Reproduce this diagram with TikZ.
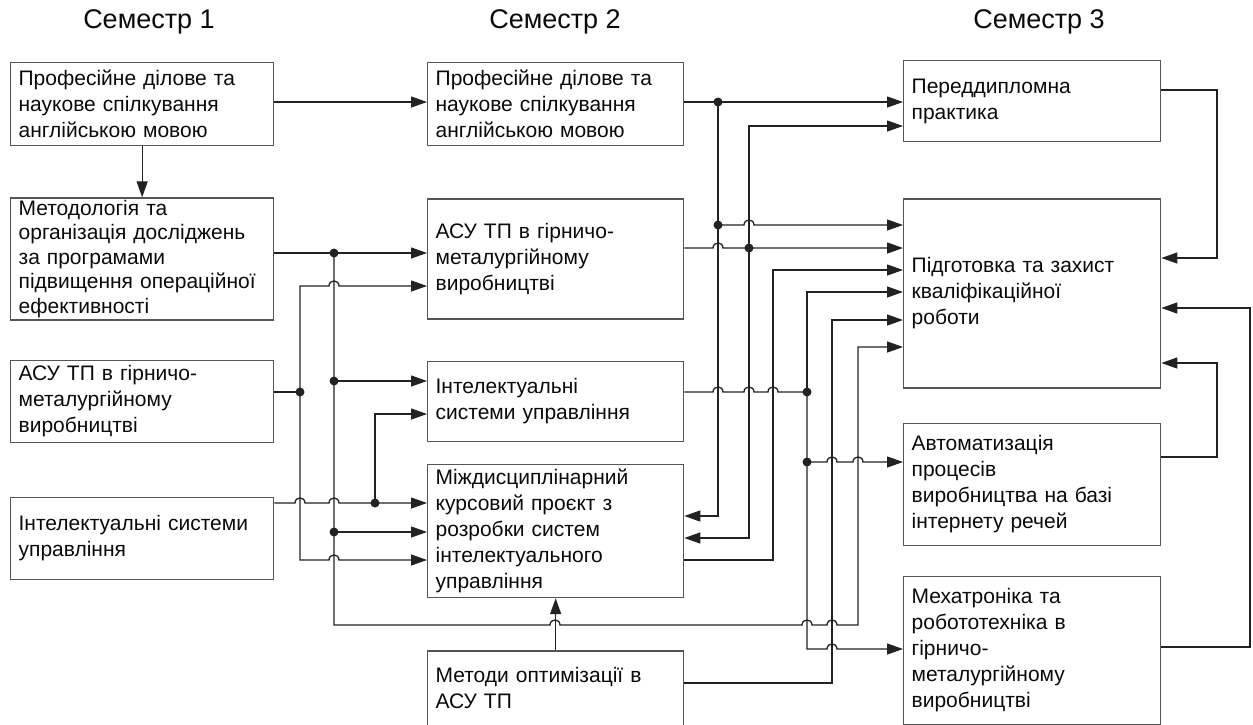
\documentclass[tikz,border=0pt]{standalone}
\usepackage{fontspec}
\setmainfont{Liberation Sans}
\usepackage{tikz}
\usetikzlibrary{arrows.meta, positioning, calc}
\definecolor{planedge}{HTML}{555555}
\definecolor{planline}{HTML}{222222}
\definecolor{planink}{HTML}{0A0A0A}
% hop of a horizontal line over a vertical one at (#1,#2)
\newcommand{\linehop}[2]{-- (#1-5,#2) .. controls (#1-5,#2-6.7) and (#1+5,#2-6.7) .. (#1+5,#2)}

\begin{document}
\begin{tikzpicture}[x=1pt, y=-1pt,
    box/.style={draw=planedge, line width=1.3pt, align=left, inner xsep=8pt, inner ysep=0pt, text=planink, font=\fontsize{21}{26}\selectfont},
    head/.style={font=\fontsize{27}{32}\selectfont, text=planink},
    line/.style={draw=planline, line width=1.3pt},
    arrow/.style={line, -{Triangle[length=16pt, width=11pt]}}
  ]
  \useasboundingbox (0,0) rectangle (1253,724);

  \node (sem1) [head] at (149,22) {Семестр 1};
  \node (sem2) [head] at (555,22) {Семестр 2};
  \node (sem3) [head] at (1039,22) {Семестр 3};

  % semester 1
  \node (s1prof) [box, text width=247pt, minimum height=83pt, anchor=north west] at (10,62) {Професійне ділове та\\наукове спілкування\\англійською мовою};
  \node (s1metod) [box, text width=247pt, minimum height=122pt, below=51pt of s1prof, font=\fontsize{21}{24.5}\selectfont] {Методологія та\\організація досліджень\\за програмами\\підвищення операційної\\ефективності};
  \node (s1asu) [box, text width=247pt, minimum height=82pt, below=39pt of s1metod] {АСУ ТП в гірничо-\\металургійному\\виробництві};
  \node (s1intel) [box, text width=247pt, minimum height=82pt, below=54pt of s1asu] {Інтелектуальні системи\\управління};

  % semester 2
  \node (s2prof) [box, text width=240pt, minimum height=83pt, anchor=north west] at (427,62) {Професійне ділове та\\наукове спілкування\\англійською мовою};
  \node (s2asu) [box, text width=240pt, minimum height=120pt, below=52pt of s2prof] {АСУ ТП в гірничо-\\металургійному\\виробництві};
  \node (s2intel) [box, text width=240pt, minimum height=80pt, below=41pt of s2asu] {Інтелектуальні\\системи управління};
  \node (s2kurs) [box, text width=240pt, minimum height=133pt, below=22pt of s2intel] {Міждисциплінарний\\курсовий проєкт з\\розробки систем\\інтелектуального\\управління};
  \node (s2metod) [box, text width=240pt, minimum height=75pt, below=52pt of s2kurs] {Методи оптимізації в\\АСУ ТП};

  % semester 3
  \node (s3prak) [box, text width=241pt, minimum height=81pt, anchor=north west] at (903,60) {Переддипломна\\практика};
  \node (s3kval) [box, text width=241pt, minimum height=189pt, below=56pt of s3prak] {Підготовка та захист\\кваліфікаційної\\роботи};
  \node (s3iot) [box, text width=241pt, minimum height=122pt, below=34pt of s3kval] {Автоматизація\\процесів\\виробництва на базі\\інтернету речей};
  \node (s3mech) [box, text width=241pt, minimum height=148pt, below=30pt of s3iot] {Мехатроніка та\\робототехніка в\\гірничо-\\металургійному\\виробництві};

  % bus points
  \coordinate (jm) at (334,253);
  \coordinate (jm2) at (334,381);
  \coordinate (jm3) at (334,532);
  \coordinate (jm4) at (334,625);
  \coordinate (jm5) at (858,625);
  \coordinate (jm6) at (858,347);
  \coordinate (ja) at (300,392);
  \coordinate (ja1) at (300,286);
  \coordinate (ja2) at (300,560);
  \coordinate (ji) at (375,503);
  \coordinate (ji1) at (375,414);
  \coordinate (jp) at (718,102);
  \coordinate (jp1) at (718,225);
  \coordinate (jp2) at (718,516);
  \coordinate (jb) at (749,248);
  \coordinate (jb1) at (749,126);
  \coordinate (jb2) at (749,538);
  \coordinate (jk1) at (773,560);
  \coordinate (jk2) at (773,270);
  \coordinate (jc) at (807,392);
  \coordinate (jc1) at (807,292);
  \coordinate (jc2) at (807,462);
  \coordinate (jc3) at (807,649);
  \coordinate (jo1) at (832,683);
  \coordinate (jo2) at (832,320);
  \coordinate (jr1) at (1217,90);
  \coordinate (jr2) at (1217,258);
  \coordinate (jr3) at (1250,647);
  \coordinate (jr4) at (1250,308);
  \coordinate (jr5) at (1217,457);
  \coordinate (jr6) at (1217,363);

  % semester 1 -> semester 2
  \draw [arrow] (s1prof.east |- jp) -- (s2prof.west |- jp);
  \draw [arrow] (s1prof) -- (s1metod);
  \draw [arrow] (s1metod.east |- jm) -- (s2asu.west |- jm);
  \draw [arrow] (jm) -- (jm4) \linehop{555}{625} \linehop{807}{625} \linehop{832}{625} -- (jm5) -- (jm6) -- (s3kval.west |- jm6);
  \draw [arrow] (jm2) -- (s2intel.west |- jm2);
  \draw [arrow] (jm3) -- (s2kurs.west |- jm3);
  \draw [line] (s1asu.east |- ja) -- (ja);
  \draw [arrow] (ja) -- (ja1) \linehop{334}{286} -- (s2asu.west |- ja1);
  \draw [arrow] (ja) -- (ja2) \linehop{334}{560} -- (s2kurs.west |- ja2);
  \draw [arrow] (s1intel.east |- ji) \linehop{300}{503} \linehop{334}{503} -- (s2kurs.west |- ji);
  \draw [arrow] (ji) -- (ji1) -- (s2intel.west |- ji1);
  \draw [arrow] (s2metod) -- (s2kurs);

  % semester 2 -> semester 3
  \draw [arrow] (s2prof.east |- jp) -- (s3prak.west |- jp);
  \draw [arrow] (jp) -- (jp2) -- (s2kurs.east |- jp2);
  \draw [arrow] (jp1) \linehop{749}{225} -- (s3kval.west |- jp1);
  \draw [arrow] (s2asu.east |- jb) \linehop{718}{248} -- (s3kval.west |- jb);
  \draw [arrow] (jb) -- (jb1) -- (s3prak.west |- jb1);
  \draw [arrow] (jb) -- (jb2) -- (s2kurs.east |- jb2);
  \draw [arrow] (s2kurs.east |- jk1) -- (jk1) -- (jk2) -- (s3kval.west |- jk2);
  \draw [line] (s2intel.east |- jc) \linehop{718}{392} \linehop{749}{392} \linehop{773}{392} -- (jc);
  \draw [arrow] (jc) -- (jc1) -- (s3kval.west |- jc1);
  \draw [arrow] (jc) -- (jc3) \linehop{832}{649} -- (s3mech.west |- jc3);
  \draw [arrow] (jc2) \linehop{832}{462} \linehop{858}{462} -- (s3iot.west |- jc2);
  \draw [arrow] (s2metod.east |- jo1) -- (jo1) -- (jo2) -- (s3kval.west |- jo2);

  % semester 3 -> qualification work
  \draw [arrow] (s3prak.east |- jr1) -- (jr1) -- (jr2) -- (s3kval.east |- jr2);
  \draw [arrow] (s3mech.east |- jr3) -- (jr3) -- (jr4) -- (s3kval.east |- jr4);
  \draw [arrow] (s3iot.east |- jr5) -- (jr5) -- (jr6) -- (s3kval.east |- jr6);

  \foreach \j in {jm,jm2,jm3,ja,ji,jp,jp1,jb,jc,jc2}
    \fill [planline] (\j) circle (4.5pt);
\end{tikzpicture}
\end{document}
